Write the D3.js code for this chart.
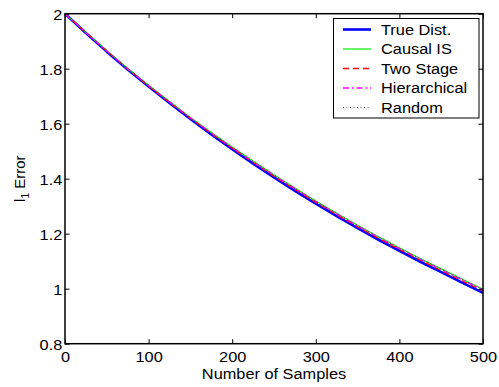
<!DOCTYPE html>
<html>
<head>
<meta charset="utf-8">
<script src="https://cdn.jsdelivr.net/npm/d3@7"></script>
<style>
  html, body { margin: 0; padding: 0; background: #fff; }
  svg { display: block; font-family: "Liberation Sans", Arial, Helvetica, sans-serif; }
</style>
</head>
<body>
<svg id="chart" width="499" height="387"></svg>
<script>
// Sample counts along the x axis
const samples = [0, 25, 50, 75, 100, 125, 150, 175, 200, 225, 250, 275, 300, 325, 350, 375, 400, 425, 450, 475, 500];

// l1 error of each sampling scheme at the sample counts above
const trueDist     = [2.000, 1.930, 1.862, 1.797, 1.735, 1.675, 1.617, 1.561, 1.507, 1.455, 1.405, 1.356, 1.309, 1.264, 1.220, 1.178, 1.138, 1.098, 1.060, 1.022, 0.985];
const causalIS     = [2.000, 1.932, 1.865, 1.801, 1.740, 1.681, 1.623, 1.568, 1.515, 1.464, 1.414, 1.366, 1.319, 1.274, 1.231, 1.189, 1.149, 1.110, 1.072, 1.035, 0.998];
const twoStage     = [2.000, 1.931, 1.864, 1.799, 1.737, 1.677, 1.620, 1.564, 1.511, 1.459, 1.409, 1.361, 1.314, 1.269, 1.225, 1.183, 1.143, 1.104, 1.066, 1.029, 0.992];
const hierarchical = [2.000, 1.931, 1.864, 1.800, 1.738, 1.679, 1.621, 1.566, 1.513, 1.461, 1.412, 1.364, 1.317, 1.272, 1.228, 1.186, 1.146, 1.107, 1.069, 1.032, 0.995];
const randomSel    = [2.000, 1.932, 1.865, 1.801, 1.739, 1.680, 1.622, 1.567, 1.514, 1.463, 1.413, 1.365, 1.318, 1.273, 1.230, 1.188, 1.148, 1.109, 1.071, 1.034, 0.997];

const seriesNames = ["True Dist.", "Causal IS", "Two Stage", "Hierarchical", "Random"];

// Tick labels
const xTicks = [0, 100, 200, 300, 400, 500];
const yTicks = [0.8, 1, 1.2, 1.4, 1.6, 1.8, 2];
const yTickLabels = ["0.8", "1", "1.2", "1.4", "1.6", "1.8", "2"];

// Line styles per series
const styles = [
  { color: "#0000ff", width: 2.6, dash: null },
  { color: "#00ee00", width: 1.2, dash: null },
  { color: "#ff0000", width: 1.3, dash: "6,4" },
  { color: "#ff00ff", width: 1.3, dash: "6,3,1.5,3" },
  { color: "#555555", width: 1.0, dash: "1,2.5" }
];
const values = [trueDist, causalIS, twoStage, hierarchical, randomSel];

const svg = d3.select("#chart");
const plot = { left: 65, right: 483, top: 13.7, bottom: 343.7 };
const stretch = "scale(1.09,1)";

const x = d3.scaleLinear().domain([0, 500]).range([plot.left, plot.right]);
const y = d3.scaleLinear().domain([0.8, 2]).range([plot.bottom, plot.top]);

// Curves
const line = d3.line().x(d => x(d[0])).y(d => y(d[1]));
values.forEach((vals, i) => {
  const st = styles[i];
  svg.append("path")
    .datum(samples.map((s, j) => [s, vals[j]]))
    .attr("d", line)
    .attr("fill", "none")
    .attr("stroke", st.color)
    .attr("stroke-width", st.width)
    .attr("stroke-dasharray", st.dash)
    .attr("stroke-linejoin", "round");
});

// Axes with inward ticks on all four sides
const tickLen = 4.5;
const axisStyle = g => {
  g.select(".domain").remove();
  g.selectAll(".tick line").attr("stroke", "#000").attr("stroke-width", 1);
};

svg.append("g")
  .attr("transform", `translate(0,${plot.bottom})`)
  .call(d3.axisBottom(x).tickValues(xTicks).tickSizeInner(-tickLen).tickSizeOuter(0).tickPadding(0).tickFormat(d3.format("d")))
  .call(axisStyle)
  .call(g => g.selectAll(".tick text")
    .attr("font-size", 15).attr("fill", "#000")
    .attr("y", 18.5).attr("dy", null)
    .attr("transform", stretch));

svg.append("g")
  .attr("transform", `translate(0,${plot.top})`)
  .call(d3.axisTop(x).tickValues(xTicks).tickSizeInner(-tickLen).tickSizeOuter(0).tickFormat(""))
  .call(axisStyle);

svg.append("g")
  .attr("transform", `translate(${plot.left},0)`)
  .call(d3.axisLeft(y).tickValues(yTicks).tickSizeInner(-tickLen).tickSizeOuter(0)
    .tickFormat((d, i) => yTickLabels[i]))
  .call(axisStyle)
  .call(g => g.selectAll(".tick text")
    .attr("font-size", 15).attr("fill", "#000")
    .attr("x", -2.5).attr("dy", "0.36em")
    .attr("transform", stretch));

svg.append("g")
  .attr("transform", `translate(${plot.right},0)`)
  .call(d3.axisRight(y).tickValues(yTicks).tickSizeInner(-tickLen).tickSizeOuter(0).tickFormat(""))
  .call(axisStyle);

// Plot box
svg.append("rect")
  .attr("x", plot.left).attr("y", plot.top)
  .attr("width", plot.right - plot.left).attr("height", plot.bottom - plot.top)
  .attr("fill", "none").attr("stroke", "#000").attr("stroke-width", 1.5);

// Axis titles
svg.append("text")
  .attr("transform", `translate(${(plot.left + plot.right) / 2},379) ${stretch}`)
  .attr("text-anchor", "middle")
  .attr("font-size", 15)
  .text("Number of Samples");

const yTitle = svg.append("text")
  .attr("transform", `translate(25,${(plot.top + plot.bottom) / 2}) rotate(-90)`)
  .attr("text-anchor", "middle")
  .attr("font-size", 15);
yTitle.append("tspan").text("l");
yTitle.append("tspan").attr("font-size", 10).attr("dy", 4).text("1");
yTitle.append("tspan").attr("dy", -4).text(" Error");

// Legend
const legend = svg.append("g");
legend.append("rect")
  .attr("x", 333.5).attr("y", 18.5).attr("width", 145.5).attr("height", 99.5)
  .attr("fill", "#fff").attr("stroke", "#000").attr("stroke-width", 1);

const rowY = d3.scaleLinear().domain([0, 4]).range([29.5, 107.5]);
seriesNames.forEach((name, i) => {
  const st = styles[i];
  legend.append("line")
    .attr("x1", 343).attr("x2", 371)
    .attr("y1", rowY(i)).attr("y2", rowY(i))
    .attr("stroke", st.color)
    .attr("stroke-width", st.width)
    .attr("stroke-dasharray", st.dash);
  legend.append("text")
    .attr("transform", `translate(381,${rowY(i)}) ${stretch}`)
    .attr("dy", "0.36em")
    .attr("font-size", 15)
    .text(name);
});
</script>
</body>
</html>
